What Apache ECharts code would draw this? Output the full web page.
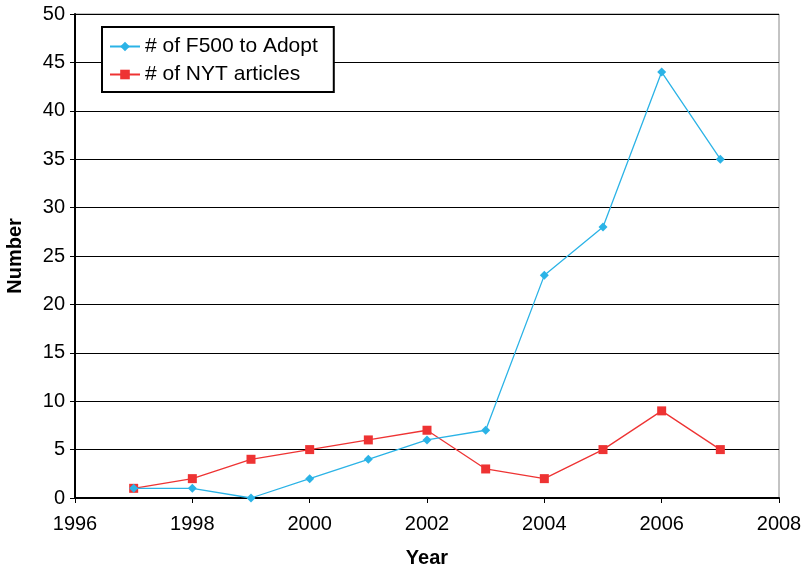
<!DOCTYPE html>
<html>
<head>
<meta charset="utf-8">
<script src="https://cdn.jsdelivr.net/npm/echarts@6/dist/echarts.min.js"></script>
<style>
  html, body { margin: 0; padding: 0; background: #fff; }
  #chart { width: 803px; height: 571px; }
</style>
</head>
<body>
<div id="chart"></div>
<script>
// Year-by-year counts
const years = [1997, 1998, 1999, 2000, 2001, 2002, 2003, 2004, 2005, 2006, 2007];
const f500Adopt = [1, 1, 0, 2, 4, 6, 7, 23, 28, 44, 35];
const nytArticles = [1, 2, 4, 5, 6, 7, 3, 2, 5, 9, 5];
const seriesNames = ['# of F500 to Adopt', '# of NYT articles'];

const font = 'Liberation Sans, Arial, sans-serif';
const pairs = (xs, ys) => xs.map((x, i) => [x, ys[i]]);

const chart = echarts.init(document.getElementById('chart'));
chart.setOption({
  animation: false,
  backgroundColor: '#fff',
  grid: {
    left: 75, right: 24, top: 14, bottom: 73,
    outerBoundsMode: 'none', containLabel: false,
    show: true, borderColor: '#888', borderWidth: 1
  },
  legend: {
    orient: 'vertical',
    left: 102,
    top: 27,
    padding: [9, 16, 7, 7],
    backgroundColor: '#fff',
    borderColor: '#000',
    borderWidth: 2,
    itemWidth: 30,
    itemHeight: 12,
    itemGap: 7,
    textStyle: { fontFamily: font, fontSize: 21, color: '#000' },
    data: seriesNames
  },
  xAxis: {
    type: 'value',
    min: 1996, max: 2008, interval: 2,
    name: 'Year',
    nameLocation: 'middle',
    nameGap: 50,
    nameTextStyle: { fontFamily: font, fontSize: 20, fontWeight: 'bold', color: '#000' },
    axisLine: { onZero: false, lineStyle: { color: '#000', width: 2 } },
    axisTick: { show: true, length: 5, lineStyle: { color: '#000', width: 1 } },
    axisLabel: { fontFamily: font, fontSize: 20, color: '#000', margin: 16, formatter: v => String(v) },
    splitLine: { show: false }
  },
  yAxis: {
    type: 'value',
    min: 0, max: 50, interval: 5,
    name: 'Number',
    nameLocation: 'middle',
    nameGap: 50,
    nameTextStyle: { fontFamily: font, fontSize: 20, fontWeight: 'bold', color: '#000' },
    axisLine: { show: true, lineStyle: { color: '#000', width: 2 } },
    axisTick: { show: true, length: 5, lineStyle: { color: '#000', width: 1 } },
    axisLabel: { fontFamily: font, fontSize: 20, color: '#000', margin: 10 },
    splitLine: { show: true, lineStyle: { color: '#000', width: 1 } }
  },
  series: [
    {
      name: seriesNames[0],
      type: 'line',
      data: pairs(years, f500Adopt),
      symbol: 'diamond',
      symbolSize: 9,
      itemStyle: { color: '#2bb3e6' },
      lineStyle: { color: '#2bb3e6', width: 1.3 },
      z: 3
    },
    {
      name: seriesNames[1],
      type: 'line',
      data: pairs(years, nytArticles),
      symbol: 'rect',
      symbolSize: 9,
      itemStyle: { color: '#ee3333' },
      lineStyle: { color: '#ee3333', width: 1.3 },
      z: 2
    }
  ]
});
</script>
</body>
</html>
